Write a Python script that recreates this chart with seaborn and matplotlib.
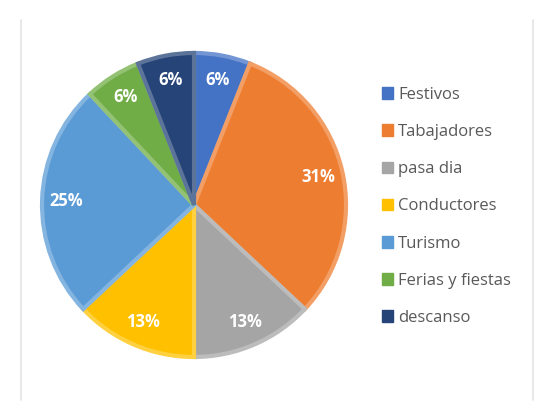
import matplotlib
matplotlib.use("Agg")
import matplotlib.pyplot as plt
from matplotlib.lines import Line2D
from matplotlib.patches import Patch
import seaborn as sns

categories = ["Festivos", "Tabajadores", "pasa dia", "Conductores",
              "Turismo", "Ferias y fiestas", "descanso"]
shares = [6, 31, 13, 13, 25, 6, 6]
slice_colors = ["#4472C4", "#ED7D31", "#A5A5A5", "#FFC000",
                "#5B9BD5", "#70AD47", "#264478"]

sns.set_style("white")
plt.rcParams["font.family"] = ["Open Sans", "DejaVu Sans"]

palette = sns.color_palette(slice_colors)
edge_colors = [tuple(c + (1 - c) * 0.25 for c in col) for col in palette]

fig = plt.figure(figsize=(5.43, 4.08), dpi=100)
ax = fig.add_axes([0.0718, 0.1176, 0.571, 0.760])

wedges, texts, autotexts = ax.pie(
    shares, colors=palette, startangle=90, counterclock=False,
    autopct="%1.0f%%", pctdistance=0.84,
    wedgeprops={"linewidth": 3},
    textprops={"color": "white", "fontsize": 12, "fontweight": "bold"},
)
for w, ec in zip(wedges, edge_colors):
    w.set_edgecolor(ec)
ax.set_xlim(-1.02, 1.02)
ax.set_ylim(-1.02, 1.02)
ax.set_aspect("auto")
ax.axis("off")

handles = [Patch(facecolor=c, edgecolor=c) for c in palette]
fig.legend(handles, categories, loc="center left",
           bbox_to_anchor=(0.675, 0.494), frameon=False,
           fontsize=12, labelspacing=1.27, handlelength=0.7,
           handleheight=0.7, handletextpad=0.3, labelcolor="#595959")

# faint chart-area frame
for xf in (21 / 543, 533 / 543):
    fig.add_artist(Line2D([xf, xf], [0.02, 0.95], transform=fig.transFigure,
                          color="#e4e4e4", linewidth=1.2))

fig.savefig("out.png", dpi=100)
